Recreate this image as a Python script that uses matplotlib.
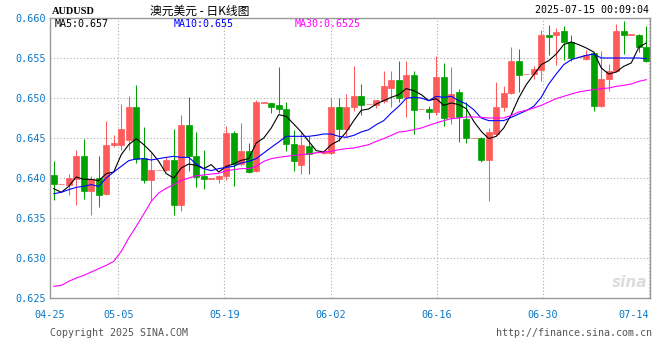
import matplotlib
matplotlib.use('Agg')
import matplotlib.pyplot as plt
import numpy as np

# AUDUSD daily candles
opens = [0.64042, 0.63925, 0.63917, 0.63992, 0.64279, 0.63833, 0.64000, 0.63800, 0.64408, 0.64417,
         0.64479, 0.64892, 0.64250, 0.63971, 0.64100, 0.64096, 0.64221, 0.63667, 0.64667, 0.64279,
         0.64021, 0.63992, 0.63983, 0.64021, 0.64567, 0.64171, 0.64333, 0.64083, 0.64940, 0.64942,
         0.64908, 0.64867, 0.64429, 0.64167, 0.64404, 0.64320, 0.64313, 0.64313, 0.64883, 0.64617,
         0.64883, 0.65029, 0.64920, 0.64908, 0.64967, 0.65125, 0.65229, 0.65008, 0.65292, 0.64860,
         0.64863, 0.64821, 0.65258, 0.64758, 0.65071, 0.64742, 0.64500, 0.64500, 0.64221, 0.64550,
         0.64883, 0.65058, 0.65458, 0.65300, 0.65300, 0.65354, 0.65792, 0.65783, 0.65842, 0.65700,
         0.65510, 0.65492, 0.65563, 0.64896, 0.65242, 0.65333, 0.65842, 0.65790, 0.65792, 0.65633]
highs = [0.64208, 0.63925, 0.64050, 0.64354, 0.64492, 0.64020, 0.64271, 0.64708, 0.64542, 0.64925,
         0.65021, 0.65158, 0.64642, 0.64313, 0.64100, 0.64260, 0.64617, 0.64792, 0.65017, 0.64575,
         0.64354, 0.63992, 0.64040, 0.64646, 0.64583, 0.64688, 0.64438, 0.64979, 0.64940, 0.64942,
         0.65383, 0.64950, 0.64604, 0.64592, 0.64521, 0.64320, 0.64350, 0.65000, 0.65000, 0.65054,
         0.65396, 0.65179, 0.64920, 0.64980, 0.65342, 0.65342, 0.65467, 0.65458, 0.65342, 0.64860,
         0.64904, 0.65529, 0.65438, 0.65383, 0.65117, 0.64950, 0.64500, 0.64508, 0.64625, 0.65200,
         0.65154, 0.65638, 0.65617, 0.65300, 0.65396, 0.65846, 0.65917, 0.65875, 0.65896, 0.65792,
         0.65510, 0.65604, 0.65575, 0.65592, 0.65425, 0.65929, 0.65958, 0.65790, 0.65800, 0.65896]
lows = [0.63729, 0.63925, 0.63792, 0.63658, 0.63742, 0.63533, 0.63633, 0.63783, 0.64383, 0.64354,
        0.64354, 0.64188, 0.63938, 0.63729, 0.64100, 0.64083, 0.63542, 0.63592, 0.64083, 0.63883,
        0.63863, 0.63992, 0.63938, 0.63980, 0.63896, 0.64150, 0.64063, 0.64075, 0.64940, 0.64808,
        0.64808, 0.64333, 0.64083, 0.64054, 0.64054, 0.64320, 0.64300, 0.64300, 0.64467, 0.64508,
        0.64842, 0.64783, 0.64920, 0.64875, 0.64938, 0.64883, 0.64950, 0.64758, 0.64550, 0.64860,
        0.64738, 0.64792, 0.64646, 0.64675, 0.64446, 0.64438, 0.64500, 0.64196, 0.63708, 0.64542,
        0.64833, 0.65050, 0.65075, 0.65300, 0.65242, 0.65217, 0.65533, 0.65417, 0.65479, 0.65458,
        0.65510, 0.65479, 0.64842, 0.64883, 0.65083, 0.65325, 0.65554, 0.65790, 0.65575, 0.65450]
closes = [0.63925, 0.63925, 0.64000, 0.64279, 0.63833, 0.63992, 0.63792, 0.64408, 0.64433, 0.64617,
          0.64892, 0.64242, 0.63971, 0.64104, 0.64100, 0.64221, 0.63667, 0.64667, 0.64271, 0.64013,
          0.63983, 0.63992, 0.64029, 0.64567, 0.64179, 0.64342, 0.64075, 0.64950, 0.64940, 0.64883,
          0.64858, 0.64425, 0.64208, 0.64417, 0.64300, 0.64320, 0.64342, 0.64883, 0.64617, 0.64883,
          0.65021, 0.64908, 0.64920, 0.64979, 0.65154, 0.65229, 0.65000, 0.65292, 0.64854, 0.64860,
          0.64821, 0.65258, 0.64750, 0.65054, 0.64758, 0.64500, 0.64500, 0.64221, 0.64571, 0.64892,
          0.65067, 0.65458, 0.65292, 0.65300, 0.65367, 0.65792, 0.65758, 0.65825, 0.65700, 0.65500,
          0.65510, 0.65542, 0.64896, 0.65242, 0.65342, 0.65842, 0.65783, 0.65790, 0.65633, 0.65458]

ma5 = [0.63867, 0.63821, 0.63896, 0.64013, 0.63983, 0.63983, 0.63967, 0.64054, 0.64075, 0.64292,
       0.64417, 0.64492, 0.64417, 0.64325, 0.64208, 0.64055, 0.64000, 0.64125, 0.64175, 0.64158,
       0.64117, 0.64167, 0.64075, 0.64146, 0.64175, 0.64221, 0.64242, 0.64438, 0.64500, 0.64625,
       0.64792, 0.64770, 0.64675, 0.64575, 0.64458, 0.64342, 0.64325, 0.64417, 0.64467, 0.64575,
       0.64717, 0.64846, 0.64863, 0.64925, 0.64967, 0.65008, 0.65042, 0.65117, 0.65092, 0.65042,
       0.64967, 0.64992, 0.64908, 0.64938, 0.64917, 0.64867, 0.64708, 0.64583, 0.64492, 0.64521,
       0.64625, 0.64792, 0.65000, 0.65167, 0.65292, 0.65417, 0.65467, 0.65550, 0.65667, 0.65700,
       0.65667, 0.65625, 0.65575, 0.65375, 0.65300, 0.65325, 0.65396, 0.65438, 0.65633, 0.65688]
ma10 = [0.63804, 0.63821, 0.63854, 0.63883, 0.63896, 0.63917, 0.63896, 0.64000, 0.64075, 0.64146,
        0.64217, 0.64238, 0.64242, 0.64225, 0.64242, 0.64258, 0.64271, 0.64258, 0.64258, 0.64175,
        0.64117, 0.64092, 0.64117, 0.64133, 0.64146, 0.64188, 0.64208, 0.64242, 0.64313, 0.64383,
        0.64450, 0.64521, 0.64521, 0.64521, 0.64521, 0.64533, 0.64550, 0.64550, 0.64521, 0.64508,
        0.64533, 0.64575, 0.64604, 0.64667, 0.64717, 0.64813, 0.64896, 0.64996, 0.65008, 0.65000,
        0.64967, 0.65021, 0.65008, 0.65021, 0.64967, 0.64925, 0.64854, 0.64750, 0.64717, 0.64717,
        0.64717, 0.64758, 0.64800, 0.64842, 0.64896, 0.65008, 0.65175, 0.65300, 0.65417, 0.65479,
        0.65508, 0.65533, 0.65550, 0.65500, 0.65500, 0.65500, 0.65500, 0.65500, 0.65500, 0.65492]
ma30 = [0.62646, 0.62658, 0.62708, 0.62750, 0.62783, 0.62825, 0.62867, 0.62908, 0.62958, 0.63083,
        0.63250, 0.63396, 0.63550, 0.63708, 0.63813, 0.63871, 0.63917, 0.63971, 0.64000, 0.64029,
        0.64038, 0.64050, 0.64058, 0.64092, 0.64104, 0.64117, 0.64117, 0.64146, 0.64208, 0.64242,
        0.64258, 0.64271, 0.64283, 0.64292, 0.64300, 0.64313, 0.64325, 0.64333, 0.64354, 0.64367,
        0.64375, 0.64396, 0.64417, 0.64458, 0.64492, 0.64533, 0.64575, 0.64585, 0.64604, 0.64625,
        0.64658, 0.64688, 0.64717, 0.64742, 0.64750, 0.64763, 0.64763, 0.64758, 0.64750, 0.64750,
        0.64750, 0.64783, 0.64825, 0.64846, 0.64875, 0.64908, 0.64950, 0.64992, 0.65021, 0.65050,
        0.65075, 0.65092, 0.65104, 0.65117, 0.65125, 0.65146, 0.65158, 0.65175, 0.65208, 0.65229]

date_labels = ['04-25', '05-05', '05-19', '06-02', '06-16', '06-30', '07-14']
date_pos = [-0.5, 8.6, 22.75, 36.95, 51.1, 65.25, 79.4]
y_ticks = [0.625, 0.630, 0.635, 0.640, 0.645, 0.650, 0.655, 0.660]

RED = '#ff5a5a'
GREEN = '#00a000'
BLUE_TXT = '#0a78c8'
MONO = 'DejaVu Sans Mono'

fig = plt.figure(figsize=(6.6, 3.6), dpi=100)
ax = fig.add_axes([50 / 660, 62 / 360, 600 / 660, 280 / 360])

o = np.array(opens)
h = np.array(highs)
l = np.array(lows)
c = np.array(closes)
x = np.arange(len(o))
colors = [RED if cc >= oo else GREEN for oo, cc in zip(o, c)]

# wicks, then bodies
ax.vlines(x, l, h, colors=colors, linewidth=0.75, zorder=2)
body_bottom = np.minimum(o, c)
body_height = np.maximum(np.abs(c - o), 0.00005)
ax.bar(x, body_height, bottom=body_bottom, width=0.8, color=colors,
       edgecolor=colors, linewidth=0.5, zorder=3)

# moving averages
ax.plot(x, ma5, color='black', linewidth=0.8, zorder=4)
ax.plot(x, ma10, color='#0000ff', linewidth=0.8, zorder=4)
ax.plot(x, ma30, color='#ff00ff', linewidth=0.8, zorder=4)

ax.set_xlim(-0.5, len(o) - 0.5)
ax.set_ylim(0.625, 0.660)

ax.set_yticks(y_ticks)
ax.set_yticklabels(['%.3f' % v for v in y_ticks])
ax.set_xticks(date_pos)
ax.set_xticklabels(date_labels)
ax.tick_params(length=0, labelsize=7.3, labelcolor=BLUE_TXT, pad=3)
ax.tick_params(axis='x', pad=9)
for lab in ax.get_xticklabels() + ax.get_yticklabels():
    lab.set_family(MONO)
ax.get_xticklabels()[-1].set_horizontalalignment('right')
ax.get_xticklabels()[-1].set_x(79.9)

ax.grid(True, color='#aaaaaa', linestyle=(0, (1, 2)), linewidth=0.8)
ax.set_axisbelow(True)
for s in ax.spines.values():
    s.set_color('#999999')
    s.set_linewidth(1)

# legend texts for the MAs
ax.text(5 / 600, 1 - 6 / 280, 'MA5:0.657', transform=ax.transAxes, color='black',
        family=MONO, fontsize=7.2, va='center', ha='left')
ax.text(124 / 600, 1 - 6 / 280, 'MA10:0.655', transform=ax.transAxes, color='#0000ff',
        family=MONO, fontsize=7.2, va='center', ha='left')
ax.text(245 / 600, 1 - 6 / 280, 'MA30:0.6525', transform=ax.transAxes, color='#ff00ff',
        family=MONO, fontsize=7.2, va='center', ha='left')

# watermark
ax.text(0.995, 0.03, 'sina', transform=ax.transAxes, color='#dcdcdc', fontsize=11,
        fontweight='bold', style='italic', ha='right', va='bottom', zorder=1)

# header / footer
fig.text(52 / 660, 1 - 12 / 360, 'AUDUSD', family='Liberation Serif', fontweight='bold',
         fontsize=7.5, ha='left', va='center')
fig.text(200 / 660, 1 - 11 / 360, '澳元美元 - 日K线图', family=['Noto Sans CJK SC', 'DejaVu Sans'],
         fontsize=8.5, ha='center', va='center')
fig.text(649 / 660, 1 - 10 / 360, '2025-07-15 00:09:04', family=MONO, fontsize=7.2,
         ha='right', va='center')
fig.text(50 / 660, 1 - 333 / 360, 'Copyright 2025 SINA.COM', family=MONO, fontsize=7.2,
         color='#555555', ha='left', va='center')
fig.text(652 / 660, 1 - 333 / 360, 'http://finance.sina.com.cn', family=MONO, fontsize=7.2,
         color='#555555', ha='right', va='center')

fig.savefig('out.png', dpi=100)
